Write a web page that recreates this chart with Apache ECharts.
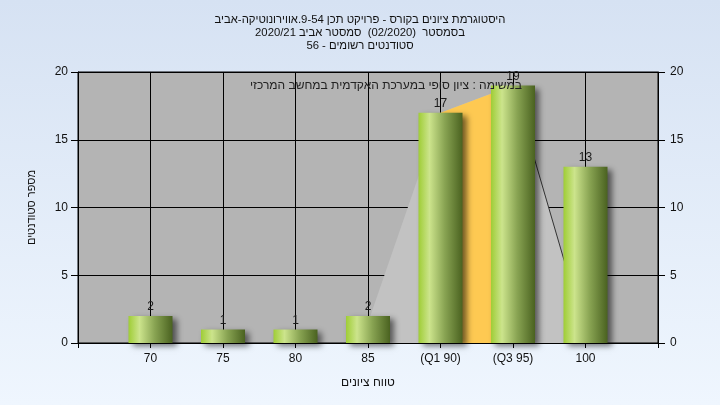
<!DOCTYPE html>
<html><head><meta charset="utf-8">
<script src="https://cdn.jsdelivr.net/npm/echarts@6/dist/echarts.min.js"></script>
<style>html,body{margin:0;padding:0;}#c{width:720px;height:405px;}</style>
</head><body><div id="c"></div>
<script>
const categories = ['', '70', '75', '80', '85', '(Q1 90)', '(Q3 95)', '100', ''];
const counts = [null, 2, 1, 1, 2, 17, 19, 13, null];
const lightArea = [null, null, null, null, 1.5, 17, 19, 0.7, null];
const quartileArea = [null, null, null, null, null, 17, 19, null, null];
const tailLine = [null, null, null, null, null, null, 19, 0.7, null];
const yTicks = {min: 0, max: 20, interval: 5};
const titleLines = [
  'היסטוגרמת ציונים בקורס - פרויקט תכן 9-54.אווירונוטיקה-אביב',
  'בסמסטר  (02/2020)  סמסטר אביב 2020/21',
  'סטודנטים רשומים - 56'
];
const noteText = 'במשימה : ציון סופי במערכת האקדמית במחשב המרכזי';
const xName = 'טווח ציונים';
const yName = 'מספר סטודנטים';

const FONT = 'Liberation Sans';
const chart = echarts.init(document.getElementById('c'), null, {renderer: 'canvas'});
const barGrad = new echarts.graphic.LinearGradient(0, 0, 1, 0, [
  {offset: 0, color: '#9fcd36'},
  {offset: 0.25, color: '#cce48c'},
  {offset: 0.6, color: '#88a352'},
  {offset: 1, color: '#4a6220'}
]);
const yAxisCommon = {
  type: 'value', min: yTicks.min, max: yTicks.max, interval: yTicks.interval,
  axisLine: {show: true, lineStyle: {color: '#000', width: 1}},
  axisTick: {show: true, length: 7, lineStyle: {color: '#000'}},
  axisLabel: {color: '#111', fontSize: 12, fontFamily: FONT, margin: 10},
};
chart.setOption({
  backgroundColor: new echarts.graphic.LinearGradient(0, 0, 0, 1, [
    {offset: 0, color: '#d6e2f3'}, {offset: 1, color: '#eff6fe'}
  ]),
  animation: false,
  title: {
    text: titleLines.join('\n'), left: 'center', top: 8,
    textStyle: {fontSize: 11.3, fontWeight: 'normal', color: '#111', fontFamily: FONT, lineHeight: 13}
  },
  graphic: [{
    type: 'text', left: 250, top: 80, z: 100,
    style: {text: noteText, fill: '#222', fontSize: 12, fontFamily: FONT}
  }],
  grid: {left: 78, right: 62, top: 72, bottom: 62, show: true, backgroundColor: '#b4b4b4', borderColor: '#000', borderWidth: 1},
  xAxis: {
    type: 'category', data: categories, boundaryGap: false,
    name: xName, nameLocation: 'middle', nameGap: 34,
    nameTextStyle: {color: '#111', fontSize: 12, fontFamily: FONT},
    axisLine: {lineStyle: {color: '#000'}},
    axisTick: {show: true, length: 5, lineStyle: {color: '#000'}},
    axisLabel: {color: '#111', fontSize: 12, fontFamily: FONT, margin: 10, interval: 0},
    splitLine: {show: true, lineStyle: {color: '#000', width: 1}}
  },
  yAxis: [
    Object.assign({}, yAxisCommon, {
      position: 'left', name: yName, nameLocation: 'middle', nameGap: 41, nameRotate: 90,
      nameTextStyle: {color: '#111', fontSize: 11, fontFamily: FONT},
      splitLine: {show: true, lineStyle: {color: '#000', width: 1}}
    }),
    Object.assign({}, yAxisCommon, {position: 'right', splitLine: {show: false},
      axisLabel: {color: '#111', fontSize: 12, fontFamily: FONT, margin: 12}})
  ],
  series: [
    {type: 'line', data: lightArea, symbol: 'none', lineStyle: {width: 0}, areaStyle: {color: '#c2c2c2', opacity: 1}, z: 1},
    {type: 'line', data: quartileArea, symbol: 'none', lineStyle: {width: 0}, areaStyle: {color: '#fec952', opacity: 1}, z: 2},
    {type: 'line', data: tailLine, symbol: 'none', lineStyle: {width: 1, color: '#333'}, z: 3},
    {type: 'bar', data: counts, barWidth: 44, z: 5,
     itemStyle: {color: barGrad, shadowColor: 'rgba(0,0,0,0.55)', shadowBlur: 6, shadowOffsetX: 4, shadowOffsetY: 3},
     label: {show: true, position: 'top', distance: 3, color: '#1a1a1a', fontSize: 12, fontFamily: FONT}}
  ]
});
</script></body></html>
